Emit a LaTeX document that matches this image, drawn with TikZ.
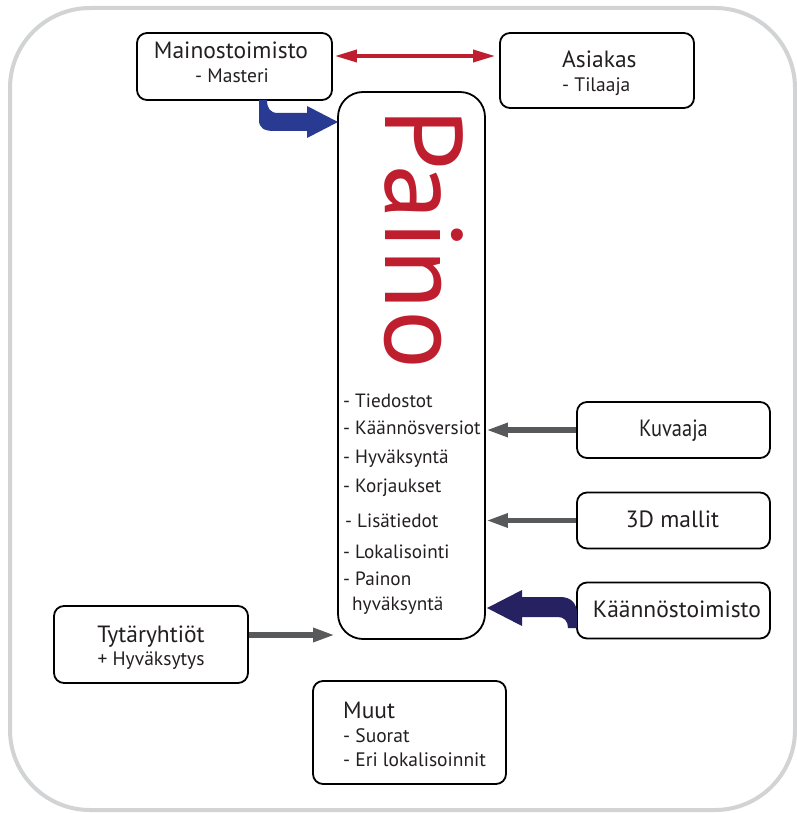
\documentclass[tikz,border=0pt]{standalone}
\usepackage{fontspec}
\setmainfont{PT Sans}
\usetikzlibrary{arrows.meta,calc}
\definecolor{txt}{HTML}{231F20}
\definecolor{painored}{HTML}{BE1E2D}
\definecolor{frame}{HTML}{D1D3D4}
\definecolor{arrgray}{HTML}{58595B}
\definecolor{blueA}{HTML}{283A92}
\definecolor{navyA}{HTML}{262262}
\begin{document}
\begin{tikzpicture}[x=1pt,y=-1pt,
  box/.style={draw=black, line width=1.8pt, rounded corners=10pt, inner sep=0pt, fill=white},
  big/.style={font=\fontsize{23.5}{27}\selectfont, text=txt, inner sep=0pt},
  small/.style={font=\fontsize{19.5}{23}\selectfont, text=txt, inner sep=0pt},
  item/.style={font=\fontsize{19.2}{23}\selectfont, text=txt, inner sep=0pt, anchor=base west},
  grayarrow/.style={draw=arrgray, line width=5.5pt, -{Triangle[length=22pt,width=13pt]}},
  redarrow/.style={draw=painored, line width=3.5pt, {Triangle[length=22pt,width=12pt]}-{Triangle[length=22pt,width=12pt]}}
]
\useasboundingbox (0,0) rectangle (796,813);
% outer frame
\draw[frame, line width=4pt, rounded corners=80pt] (10,8) rectangle (795,810);

% boxes
\node[box, minimum width=195pt, minimum height=67pt] (mai) at (234.5,66.5) {};
\node[box, minimum width=194pt, minimum height=75pt] (asi) at (597,70.5) {};
\node[box, rounded corners=25pt, minimum width=147pt, minimum height=547pt] (pai) at (411.5,365.5) {};
\node[box, minimum width=193pt, minimum height=56pt] (kuv) at (673.5,430) {};
\node[box, minimum width=193pt, minimum height=56pt] (m3d) at (673.5,520.5) {};
\node[box, minimum width=193pt, minimum height=56pt] (kaa) at (673.5,610.5) {};
\node[box, minimum width=194pt, minimum height=77pt] (tyt) at (151,644.5) {};
\node[box, minimum width=193pt, minimum height=103pt] (muu) at (409.5,732.5) {};

% texts
\node[big, anchor=base] (maiT) at (231,59) {Mainostoimisto};
\node[small, anchor=base west] (maiS) at (195,83) {- Masteri};
\node[big, anchor=base west] (asiT) at (562,68) {Asiakas};
\node[small, anchor=base west] (asiS) at (562,92) {- Tilaaja};
\node[big, anchor=base, xscale=0.87] (kuvT) at (673.5,436) {Kuvaaja};
\node[big, anchor=base] (m3dT) at (672.5,527) {3D mallit};
\node[big, anchor=base] (kaaT) at (677,617) {Käännöstoimisto};
\node[big, anchor=base] (tytT) at (151,642) {Tytäryhtiöt};
\node[small, anchor=base] (tytS) at (151,665) {+ Hyväksytys};
\node[big, anchor=base west] (muuT) at (343,718) {Muut};
\node[small, anchor=base west] (muuA) at (343,742) {- Suorat};
\node[small, anchor=base west] (muuB) at (343,766) {- Eri lokalisoinnit};

\node[rotate=-90, anchor=base west, inner sep=0pt, text=painored,
      font=\fontsize{110}{110}\selectfont] (painoT) at (385,108) {Paino};

\node[item] (i1) at (343,407) {- Tiedostot};
\node[item] (i2) at (343,434) {- Käännösversiot};
\node[item] (i3) at (343,463) {- Hyväksyntä};
\node[item] (i4) at (343,492) {- Korjaukset};
\node[item] (i5) at (345,527) {- Lisätiedot};
\node[item] (i6) at (343,558) {- Lokalisointi};
\node[item] (i7) at (343,585) {- Painon};
\node[item] (i8) at (352,610) {hyväksyntä};

% connectors
\coordinate (ry) at (0,56);
\draw[redarrow] ([xshift=2pt]mai.east |- ry) -- ([xshift=-4pt]asi.west |- ry);
\draw[grayarrow] (kuv.west) -- (kuv.west -| pai.east);
\draw[grayarrow] (m3d.west) -- (m3d.west -| pai.east);
\coordinate (ty) at (0,635);
\draw[grayarrow] (tyt.east |- ty) -- ([xshift=-2pt]pai.west |- ty);

% bent blue arrow Mainostoimisto -> Paino
\fill[blueA] (259,100) -- (259,120) .. controls (259,128) and (264,131) .. (274,131)
  -- (307,131) -- (307,138) -- (338,122) -- (307,106) -- (307,113) -- (278,113)
  .. controls (270,113) and (267,108) .. (267,100) -- cycle;
% bent navy arrow Käännöstoimisto -> Paino
\fill[navyA] (577,628) -- (577,614) .. controls (577,603) and (571,597) .. (560,597)
  -- (522,597) -- (522,590) -- (487,608) -- (522,626) -- (522,617) -- (558,617)
  .. controls (564,617) and (568,621) .. (568,628) -- cycle;
\end{tikzpicture}
\end{document}
